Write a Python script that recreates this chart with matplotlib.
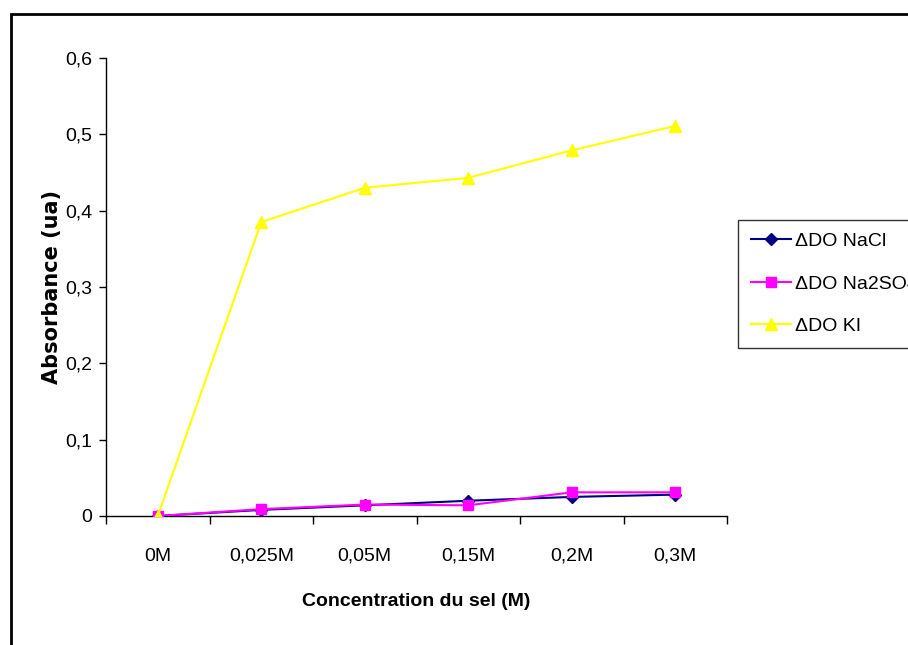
import matplotlib
matplotlib.use("Agg")
import matplotlib.pyplot as plt
from matplotlib.patches import Rectangle
import numpy as np

categories = ["0M", "0,025M", "0,05M", "0,15M", "0,2M", "0,3M"]
nacl = [0.0, 0.008, 0.014, 0.020, 0.025, 0.028]
na2so4 = [0.0, 0.009, 0.015, 0.014, 0.031, 0.031]
ki = [0.0, 0.385, 0.430, 0.443, 0.479, 0.511]
yticks = [0, 0.1, 0.2, 0.3, 0.4, 0.5, 0.6]
ytick_labels = ["0", "0,1", "0,2", "0,3", "0,4", "0,5", "0,6"]

sans = ["Liberation Sans", "DejaVu Sans"]

W, H = 908, 645
fig = plt.figure(figsize=(W / 100, H / 100), dpi=100)
fig.patch.set_facecolor("white")

# outer chart frame
fig.patches.append(Rectangle((11 / W, -0.05), 1.2, (H - 14) / H + 0.05,
                             transform=fig.transFigure, fill=False,
                             edgecolor="black", linewidth=2))

ax = fig.add_axes([106 / W, (H - 516) / H, (727 - 106) / W, (516 - 58) / H])
x = np.arange(len(categories))

ax.plot(x, nacl, color="#000080", marker="D", markersize=6, linewidth=1.5,
        label="ΔDO NaCl", zorder=3)
ax.plot(x, na2so4, color="#FF00FF", marker="s", markersize=7.5, linewidth=1.5,
        label="ΔDO Na2SO4", zorder=4)
ax.plot(x, ki, color="#FFFF00", marker="^", markersize=9, linewidth=1.5,
        label="ΔDO KI", zorder=5)

ax.set_xlim(-0.5, len(categories) - 0.5)
ax.set_ylim(0, 0.6)
ax.spines["top"].set_visible(False)
ax.spines["right"].set_visible(False)
for s in ("left", "bottom"):
    ax.spines[s].set_linewidth(1.0)
    ax.spines[s].set_color("black")

ax.set_yticks(yticks)
ax.set_yticklabels(ytick_labels, fontfamily=sans, fontsize=14)
ax.tick_params(axis="y", direction="out", length=5, width=1, pad=5)

ax.set_xticks(x)
ax.set_xticklabels(categories, fontfamily=sans, fontsize=14)
ax.tick_params(axis="x", which="major", length=0, pad=23)
ax.set_xticks(np.arange(-0.5, len(categories), 1.0), minor=True)
ax.tick_params(axis="x", which="minor", direction="out", length=6, width=1)

ax.set_xlabel("Concentration du sel (M)", fontfamily=sans, fontsize=14,
              fontweight="bold", labelpad=20)
ax.set_ylabel("Absorbance (ua)", fontfamily=["DejaVu Sans"], fontsize=15,
              fontweight="bold", labelpad=2)

leg = ax.legend(loc="upper left", bbox_to_anchor=(738 / W, (H - 220) / H),
                bbox_transform=fig.transFigure, frameon=True, fancybox=False,
                prop={"family": sans, "size": 14}, labelspacing=1.28,
                handlelength=2.1, handletextpad=0.2, borderpad=0.65,
                borderaxespad=0)
leg.get_frame().set_edgecolor("black")
leg.get_frame().set_linewidth(1.0)

fig.savefig("out.png", dpi=100)
